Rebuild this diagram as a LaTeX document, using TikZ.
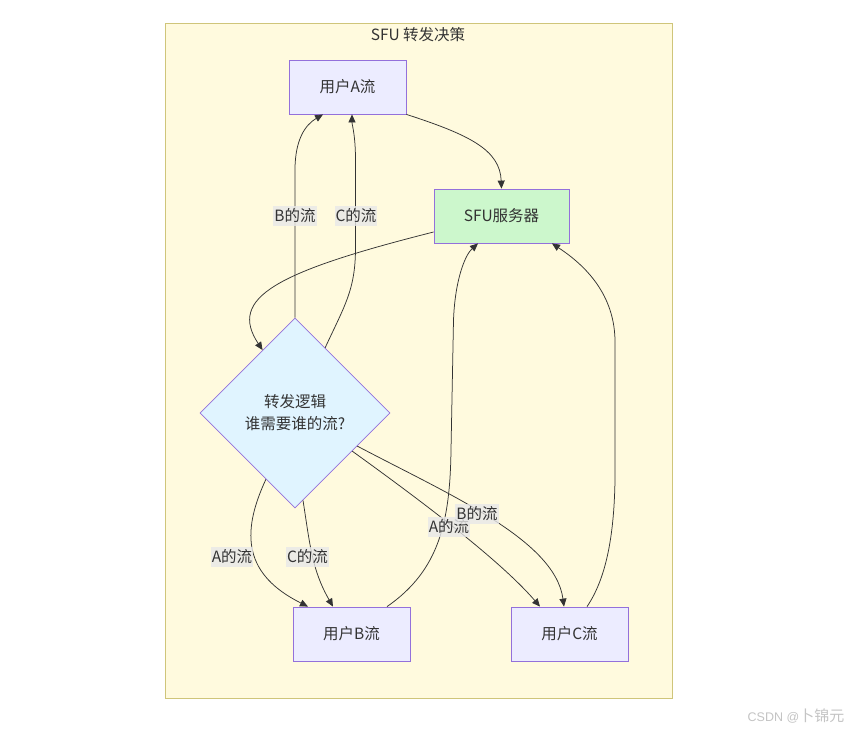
\documentclass[tikz,border=0pt]{standalone}
\usepackage{fontspec}
\setmainfont{Noto Sans CJK SC}
\newfontfamily\wmlatin{Liberation Sans}
\usetikzlibrary{shapes.geometric,arrows.meta,calc}
\definecolor{clusterfill}{HTML}{FFFADE}
\definecolor{clusterline}{HTML}{CFC57A}
\definecolor{nodefill}{HTML}{ECECFF}
\definecolor{nodeline}{HTML}{9370DB}
\definecolor{sfufill}{HTML}{CCF7CC}
\definecolor{decfill}{HTML}{E0F4FF}
\definecolor{edgecol}{HTML}{333333}
\definecolor{labelbg}{HTML}{E8E8E8}
\definecolor{txt}{HTML}{333333}
\definecolor{wmcol}{HTML}{C4C4C4}
\begin{document}
\begin{tikzpicture}[x=1pt,y=-1pt,
  basefont/.style={font=\fontsize{15.5}{18}\selectfont, text=txt},
  frame/.style={draw=clusterline, fill=clusterfill, line width=0.9pt, minimum width=507pt, minimum height=675pt, inner sep=0pt},
  userbox/.style={basefont, draw=nodeline, fill=nodefill, line width=0.8pt, minimum width=117pt, minimum height=54pt, inner sep=0pt},
  sfubox/.style={userbox, fill=sfufill, minimum width=135pt},
  decision/.style={basefont, diamond, draw=nodeline, fill=decfill, line width=0.8pt, minimum width=190pt, minimum height=190pt, inner sep=0pt, align=center},
  flow/.style={draw=edgecol, line width=0.75pt, -{Triangle[length=8pt,width=7pt]}},
  elabel/.style={basefont, fill=labelbg, fill opacity=0.8, text opacity=1, inner xsep=1pt, inner ysep=2.5pt},
  wmark/.style={font=\fontsize{15}{17}\selectfont, text=wmcol}
]
\useasboundingbox (0,0) rectangle (856,731);
\fill[white] (0,0) rectangle (856,731);
\node[frame] (F) at (418.5,360.5) {};
\node[basefont] (T) at (418,35) {SFU 转发决策};

\node[userbox] (A) at (347.5,87) {用户A流};
\node[sfubox] (S) at (501.5,216) {SFU服务器};
\node[decision] (D) at (295,413) {转发逻辑\\[4pt]谁需要谁的流?};
\node[userbox] (B) at (351.5,634) {用户B流};
\node[userbox] (C) at (569.5,634) {用户C流};

% anchor points
\coordinate (aS) at ($(S.west)+(0,16)$);
\coordinate (dUL) at ($(D.north)!0.34!(D.west)$);
\coordinate (dUR) at ($(D.north)!0.316!(D.east)$);
\coordinate (dLL) at ($(D.west)!0.695!(D.south)$);
\coordinate (dB) at ($(D.east)!0.916!(D.south)$);
\coordinate (dR1) at ($(D.east)!0.40!(D.south)$);
\coordinate (dR2) at ($(D.east)!0.347!(D.south)$);
\coordinate (aB) at ($(A.south)+(-24.5,0)$);
\coordinate (aC) at ($(A.south)+(4.5,0)$);
\coordinate (bA) at ($(B.north)+(-43.5,0)$);
\coordinate (bC) at ($(B.north)+(-18.5,0)$);
\coordinate (bS) at ($(B.north)+(35.5,0)$);
\coordinate (cA) at ($(C.north)+(-29.5,0)$);
\coordinate (cB) at ($(C.north)+(-5.5,0)$);
\coordinate (cS) at ($(C.north)+(17.5,0)$);
\coordinate (sB) at ($(S.south)+(-23.5,0)$);
\coordinate (sC) at ($(S.south)+(50.5,0)$);

% edges
\draw[flow] (A.south east) .. controls (470,135) and (500,150) .. (S.north);
\draw[flow] (aS) .. controls (275,272) and (228,298) .. (dUL);
\draw[flow] (D.north) -- (295,170) .. controls (295,140) and (305,125) .. (aB);
\draw[flow] (dUR) .. controls (345,305) and (355,290) .. (355.5,250) -- (355.5,160) .. controls (355.5,135) and (352,125) .. (aC);
\draw[flow] (dLL) .. controls (240,535) and (245,575) .. (bA);
\draw[flow] (dB) .. controls (310,545) and (312,570) .. (bC);
\draw[flow] (dR1) .. controls (420,500) and (500,560) .. (cA);
\draw[flow] (dR2) .. controls (450,495) and (555,540) .. (cB);
\draw[flow] (bS) .. controls (440,570) and (450,520) .. (451,450) -- (453.5,320) .. controls (455,280) and (465,255) .. (sB);
\draw[flow] (cS) .. controls (605,580) and (614,540) .. (615,480) -- (615,340) .. controls (614,290) and (580,262) .. (sC);

% edge labels
\node[elabel] (l1) at (295,216) {B的流};
\node[elabel] (l2) at (356,216) {C的流};
\node[elabel] (l3) at (232,557) {A的流};
\node[elabel] (l4) at (307.5,557) {C的流};
\node[elabel] (l5) at (449,527) {A的流};
\node[elabel] (l6) at (477,514) {B的流};

\node[wmark] (W) at (796,716) {{\wmlatin\fontsize{12.5}{15}\selectfont CSDN @}卜锦元};
\end{tikzpicture}
\end{document}
